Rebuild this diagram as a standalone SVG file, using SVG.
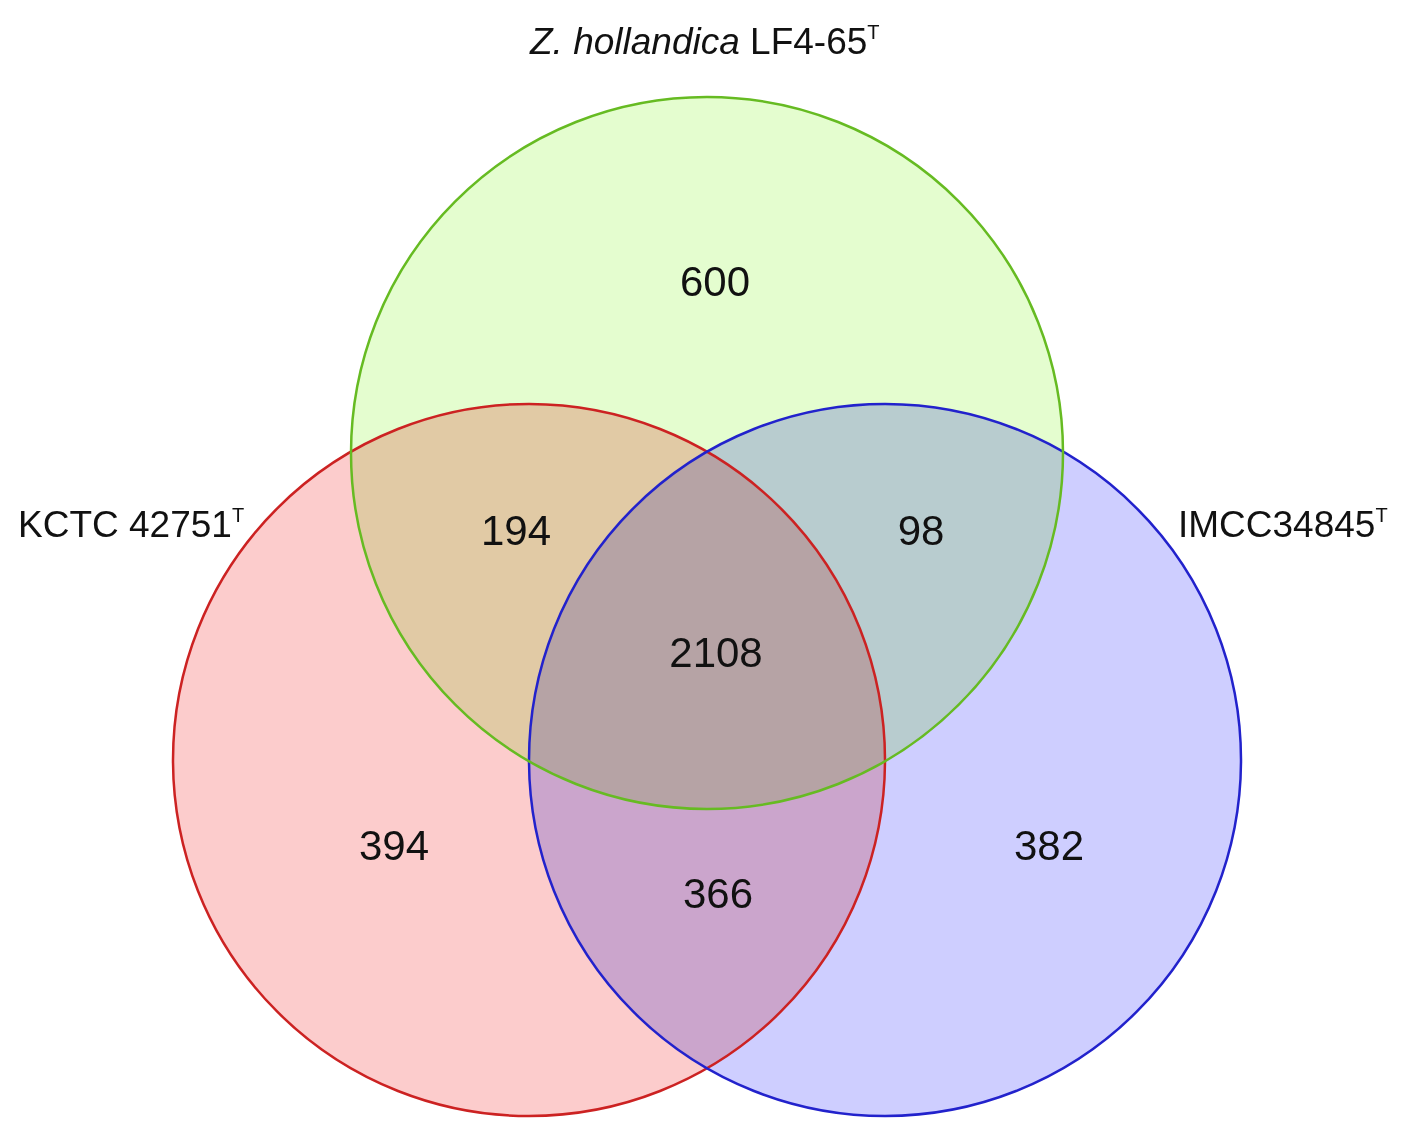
<svg xmlns="http://www.w3.org/2000/svg" width="1420" height="1144" viewBox="0 0 1420 1144">
<style>
.c{stroke-width:2.5;mix-blend-mode:multiply}
.n{font-family:"Liberation Sans",Arial,sans-serif;font-size:42px;fill:#111;text-anchor:middle}
.l{font-family:"Liberation Sans",Arial,sans-serif;font-size:37px;fill:#111}
.s{font-size:20px}
</style>
<rect width="1420" height="1144" fill="#fff"/>
<g id="fills">
<circle id="green" class="c" cx="707" cy="453" r="356" fill="#e4fdcf"/>
<circle id="red" class="c" cx="529" cy="760" r="356" fill="#fccccc"/>
<circle id="blue" class="c" cx="885" cy="760" r="356" fill="#ceceff"/>
</g>
<g id="outlines" fill="none" stroke-width="2.5">
<circle cx="529" cy="760" r="356" stroke="#cc2222"/>
<circle cx="885" cy="760" r="356" stroke="#2222cc"/>
<circle cx="707" cy="453" r="356" stroke="#66bb22"/>
</g>
<g id="labels">
<text class="l" x="530" y="54"><tspan font-style="italic">Z. hollandica</tspan> LF4-65<tspan class="s" dy="-15">T</tspan></text>
<text class="l" x="18" y="537">KCTC 42751<tspan class="s" dy="-15">T</tspan></text>
<text class="l" x="1178" y="537">IMCC34845<tspan class="s" dy="-15">T</tspan></text>
</g>
<g id="numbers">
<text class="n" x="715" y="296">600</text>
<text class="n" x="516" y="545">194</text>
<text class="n" x="921" y="545">98</text>
<text class="n" x="716" y="667">2108</text>
<text class="n" x="394" y="860">394</text>
<text class="n" x="1049" y="860">382</text>
<text class="n" x="718" y="908">366</text>
</g>
</svg>
